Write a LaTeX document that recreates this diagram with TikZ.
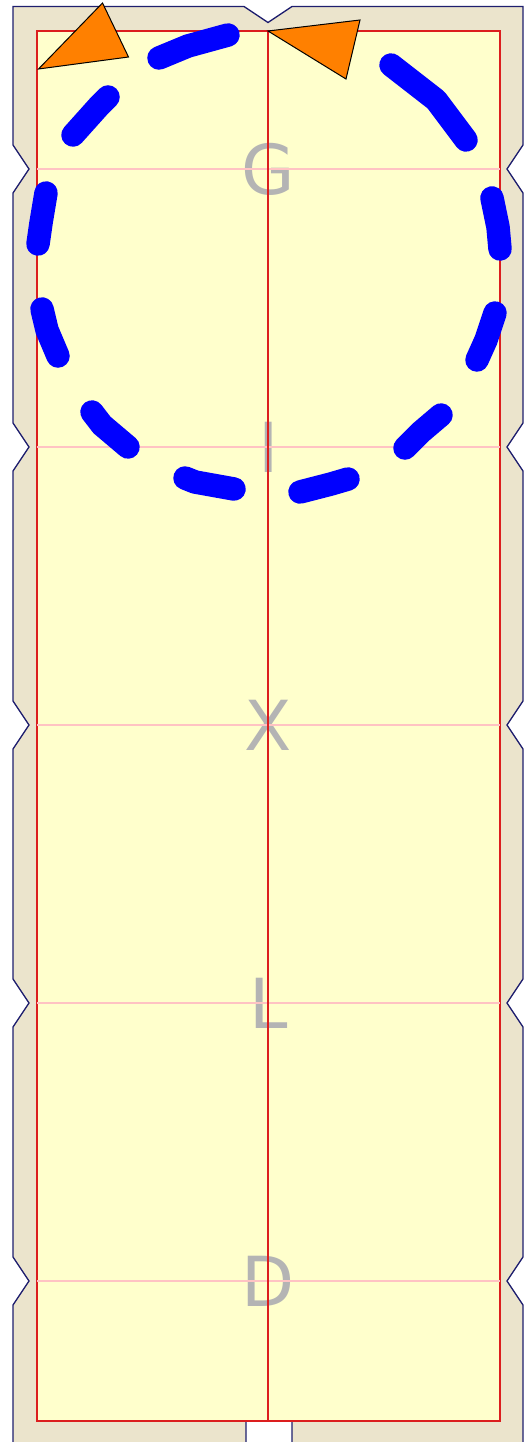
\documentclass[tikz,border=0pt]{standalone}
\usepackage{fontspec}
\newfontfamily\letfont{DejaVu Sans}
\definecolor{beige}{RGB}{235,228,204}
\definecolor{navyline}{RGB}{30,30,110}
\definecolor{redline}{RGB}{220,30,30}
\definecolor{pinkline}{RGB}{255,195,195}
\definecolor{paleyellow}{RGB}{255,255,204}
\definecolor{letgray}{RGB}{180,180,180}
\definecolor{dashblue}{RGB}{0,0,255}
\definecolor{tri}{RGB}{255,128,0}
\tikzset{
  outline/.style={fill=beige, draw=navyline, line width=1.3pt, line join=miter},
  panel/.style={fill=paleyellow, draw=redline, line width=1.5pt},
  rowline/.style={draw=pinkline, line width=1.3pt},
  axisline/.style={draw=redline, line width=1.3pt},
  letter/.style={font=\letfont\fontsize{69}{69}\selectfont, text=letgray, inner sep=0pt},
  bluedash/.style={draw=dashblue, line width=23.5pt, line cap=round, line join=round},
  tribox/.style={fill=tri, draw=black, line width=1pt, line join=miter}
}
\begin{document}
\begin{tikzpicture}[x=1pt,y=-1pt]
\path[use as bounding box] (0,0) rectangle (530,1442);
\clip (0,0) rectangle (530,1442);
% outer sheet
\draw[outline] (13,1450) -- (13,1305) -- (29,1281) -- (13,1257) -- (13,1027) -- (29,1003) -- (13,979)
  -- (13,749) -- (29,725) -- (13,701) -- (13,471) -- (29,447) -- (13,423) -- (13,193) -- (29,169) -- (13,145)
  -- (13,6.5) -- (244,6.5) -- (268,22.5) -- (292,6.5) -- (523,6.5)
  -- (523,145) -- (507,169) -- (523,193) -- (523,423) -- (507,447) -- (523,471) -- (523,701) -- (507,725) -- (523,749)
  -- (523,979) -- (507,1003) -- (523,1027) -- (523,1257) -- (507,1281) -- (523,1305) -- (523,1450)
  -- (292,1450) -- (292,1421) -- (246,1421) -- (246,1450) -- cycle;
% panel
\draw[panel] (37,31) rectangle (500,1421);
% letters
\node[letter] (g) at (268.5,169) {G};
\node[letter] (i) at (268.5,447) {I};
\node[letter] (x) at (268.5,725) {X};
\node[letter] (l) at (268.5,1003) {L};
\node[letter] (d) at (268.5,1281) {D};
% row lines
\foreach \yy in {169,447,725,1003,1281} { \draw[rowline] (37,\yy) -- (500,\yy); }
% axis
\draw[axisline] (268,31) -- (268,1421);
% dashed circle
\draw[bluedash] (159,58) -- (188,46) -- (228,35);
\draw[bluedash] (108,97) -- (99,106) -- (73,135);
\draw[bluedash] (46,193) -- (41,223) -- (38,244);
\draw[bluedash] (42,309) -- (47,330) -- (58,356);
\draw[bluedash] (92,412) -- (102,425) -- (128,447);
\draw[bluedash] (185,478) -- (195,482) -- (234,489);
\draw[bluedash] (300,492) -- (331,484) -- (348,479);
\draw[bluedash] (405,448) -- (421,432) -- (441,415);
\draw[bluedash] (477,360) -- (486,340) -- (495,313);
\draw[bluedash] (492,198) -- (498,227) -- (500,249);
\draw[bluedash] (391,65) -- (436,100) -- (466,140);
% triangles
\draw[tribox] (38.5,69) -- (102.5,3) -- (128.5,57) -- cycle;
\draw[tribox] (268,31) -- (360,20) -- (346,79) -- cycle;
\end{tikzpicture}
\end{document}
